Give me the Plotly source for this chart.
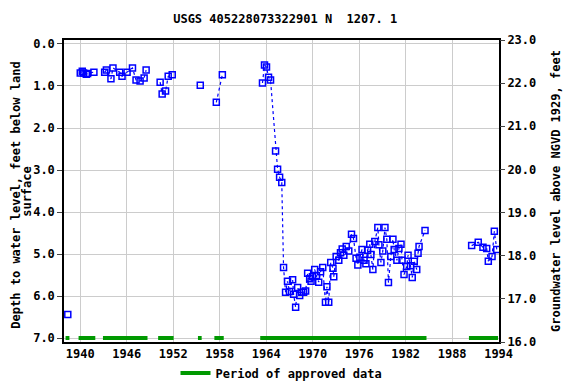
import plotly.graph_objects as go

# Measurement dates (decimal years) and depth to water (ft below land surface)
years = [1938.39, 1940.00, 1940.26, 1940.43, 1940.78, 1940.95, 1941.76, 1943.15, 1943.37, 1943.96,
         1944.22, 1945.09, 1945.39, 1946.04, 1946.74, 1947.20, 1947.72, 1948.24, 1948.50, 1950.31,
         1950.57, 1951.01, 1951.35, 1951.87, 1955.49, 1957.56, 1958.34, 1963.52, 1963.78, 1964.04,
         1964.30, 1964.56, 1965.21, 1965.47, 1965.73, 1966.01, 1966.24, 1966.50, 1966.75, 1967.01,
         1967.41, 1967.54, 1967.80, 1968.06, 1968.32, 1968.58, 1968.83, 1969.09, 1969.35, 1969.61,
         1969.79, 1969.96, 1970.26, 1970.48, 1970.78, 1971.02, 1971.30, 1971.65, 1971.84, 1972.07,
         1972.33, 1972.62, 1972.72, 1973.03, 1973.37, 1973.59, 1973.81, 1974.02, 1974.33, 1974.66,
         1975.01, 1975.27, 1975.60, 1975.83, 1976.09, 1976.37, 1976.63, 1976.87, 1977.09, 1977.37,
         1977.51, 1977.77, 1978.02, 1978.41, 1978.55, 1978.81, 1979.05, 1979.33, 1979.57, 1979.78,
         1980.09, 1980.36, 1980.52, 1980.87, 1981.13, 1981.40, 1981.53, 1981.79, 1982.14, 1982.31,
         1982.63, 1982.85, 1983.11, 1983.43, 1983.60, 1983.73, 1984.50, 1990.52, 1991.37, 1991.98,
         1992.46, 1992.67, 1993.15, 1993.45, 1993.76]
depths = [6.44, 0.69, 0.65, 0.69, 0.72, 0.70, 0.67, 0.67, 0.62, 0.83,
          0.57, 0.67, 0.77, 0.67, 0.57, 0.86, 0.88, 0.81, 0.62, 0.91,
          1.19, 1.12, 0.77, 0.73, 0.98, 1.39, 0.73, 0.93, 0.50, 0.55,
          0.79, 0.86, 2.55, 2.98, 3.17, 3.30, 5.32, 5.91, 5.65, 5.89,
          5.61, 5.96, 6.27, 5.80, 5.99, 5.91, 5.91, 5.88, 5.46, 5.59,
          5.65, 5.54, 5.37, 5.52, 5.67, 5.42, 5.32, 6.15, 5.78, 6.15,
          5.20, 5.34, 5.54, 5.06, 5.15, 4.97, 4.88, 5.03, 4.82, 4.93,
          4.53, 4.63, 5.10, 5.26, 5.08, 4.89, 5.15, 5.23, 4.91, 4.77,
          5.01, 5.37, 4.70, 4.37, 4.78, 5.20, 4.93, 4.37, 4.65, 5.68,
          5.06, 4.65, 4.89, 5.15, 4.87, 4.77, 5.15, 5.49, 5.30, 5.03,
          5.28, 5.56, 5.17, 5.37, 4.98, 4.82, 4.44, 4.80, 4.72, 4.84,
          4.87, 5.17, 5.06, 4.46, 4.89]

# Periods of approved data (start, end in decimal years)
approved_start = [1938.10, 1939.78, 1942.93, 1950.05, 1955.19, 1957.31, 1963.23, 1990.17]
approved_end = [1938.60, 1941.94, 1948.68, 1952.05, 1955.67, 1958.52, 1984.69, 1993.93]
approved_level = 7.0

left_ticks = [0, 1, 2, 3, 4, 5, 6, 7]
right_ticks = [16, 17, 18, 19, 20, 21, 22, 23]
x_ticks = [1940, 1946, 1952, 1958, 1964, 1970, 1976, 1982, 1988, 1994]

left_title_lines = ["Depth to water level, feet below land", "surface"]

GAP = 1.0  # years; consecutive points farther apart are not joined

line_x, line_y = [], []
for i, (xv, yv) in enumerate(zip(years, depths)):
    if i > 0 and xv - years[i - 1] > GAP:
        line_x.append(None)
        line_y.append(None)
    line_x.append(xv)
    line_y.append(yv)

ap_x, ap_y = [], []
for s, e in zip(approved_start, approved_end):
    ap_x += [s, e, None]
    ap_y += [approved_level, approved_level, None]

FONT = "DejaVu Sans Mono"
blue = "#0000ff"
green = "#009900"

fig = go.Figure()
fig.add_trace(go.Scatter(x=line_x, y=line_y, mode="lines",
                         line=dict(color=blue, width=1.2, dash="dot"),
                         showlegend=False, hoverinfo="skip"))
fig.add_trace(go.Scatter(x=years, y=depths, mode="markers",
                         marker=dict(symbol="square-open", size=6, color=blue,
                                     line=dict(color=blue, width=1.5)),
                         showlegend=False))
fig.add_trace(go.Scatter(x=ap_x, y=ap_y, mode="lines",
                         line=dict(color=green, width=4),
                         name="Period of approved data", showlegend=True))
# invisible trace to anchor the right axis
fig.add_trace(go.Scatter(x=[years[0]], y=[right_ticks[0]], yaxis="y2", mode="markers",
                         marker=dict(opacity=0), showlegend=False, hoverinfo="skip"))

# the page body has an 8px margin, so the figure is 8px smaller on each axis
fig.update_layout(
    width=568, height=376,
    margin=dict(l=56, r=77, t=32, b=42),
    paper_bgcolor="white", plot_bgcolor="white",
    font=dict(family=FONT, size=12, color="black", weight="bold"),
    title=dict(text="USGS 405228073322901 N \u00a01207. 1", x=0.488, xanchor="center",
               y=0.971, yanchor="middle",
               font=dict(family=FONT, size=12, color="black", weight="bold")),
    xaxis=dict(range=[1937.9, 1994.05], tickvals=x_ticks, showgrid=True, automargin=False,
               gridcolor="#cccccc", gridwidth=1, showline=True, linecolor="black",
               linewidth=1.5, mirror=True, ticks="", zeroline=False,
               tickfont=dict(family=FONT, size=12, weight="bold")),
    yaxis=dict(range=[7.095, -0.095], tickvals=left_ticks, tickformat=".1f", automargin=False,
               showgrid=True, gridcolor="#cccccc", gridwidth=1, showline=True,
               linecolor="black", linewidth=1.5, mirror=True, ticks="outside",
               ticklen=5, zeroline=False,
               tickfont=dict(family=FONT, size=12, weight="bold")),
    yaxis2=dict(range=[16, 23], tickvals=right_ticks, tickformat=".1f", overlaying="y",
                side="right", showgrid=False, ticks="outside", ticklen=5, automargin=False,
                showline=False, zeroline=False,
                title=dict(text="Groundwater level above NGVD 1929, feet", standoff=16,
                           font=dict(family=FONT, size=12, weight="bold")),
                tickfont=dict(family=FONT, size=12, weight="bold")),
    legend=dict(orientation="h", x=0.5, xanchor="center", xref="paper",
                y=0.029, yanchor="middle", yref="container",
                font=dict(family=FONT, size=12, weight="bold")),
)

# left axis title, two rotated lines
fig.add_annotation(text=left_title_lines[0], xref="paper", yref="paper",
                   x=-0.111, y=0.487, xanchor="center", yanchor="middle",
                   textangle=-90, showarrow=False,
                   font=dict(family=FONT, size=12, color="black", weight="bold"))
fig.add_annotation(text=left_title_lines[1], xref="paper", yref="paper",
                   x=-0.0855, y=0.5, xanchor="center", yanchor="middle",
                   textangle=-90, showarrow=False,
                   font=dict(family=FONT, size=12, color="black", weight="bold"))

fig.write_html("out.html")
